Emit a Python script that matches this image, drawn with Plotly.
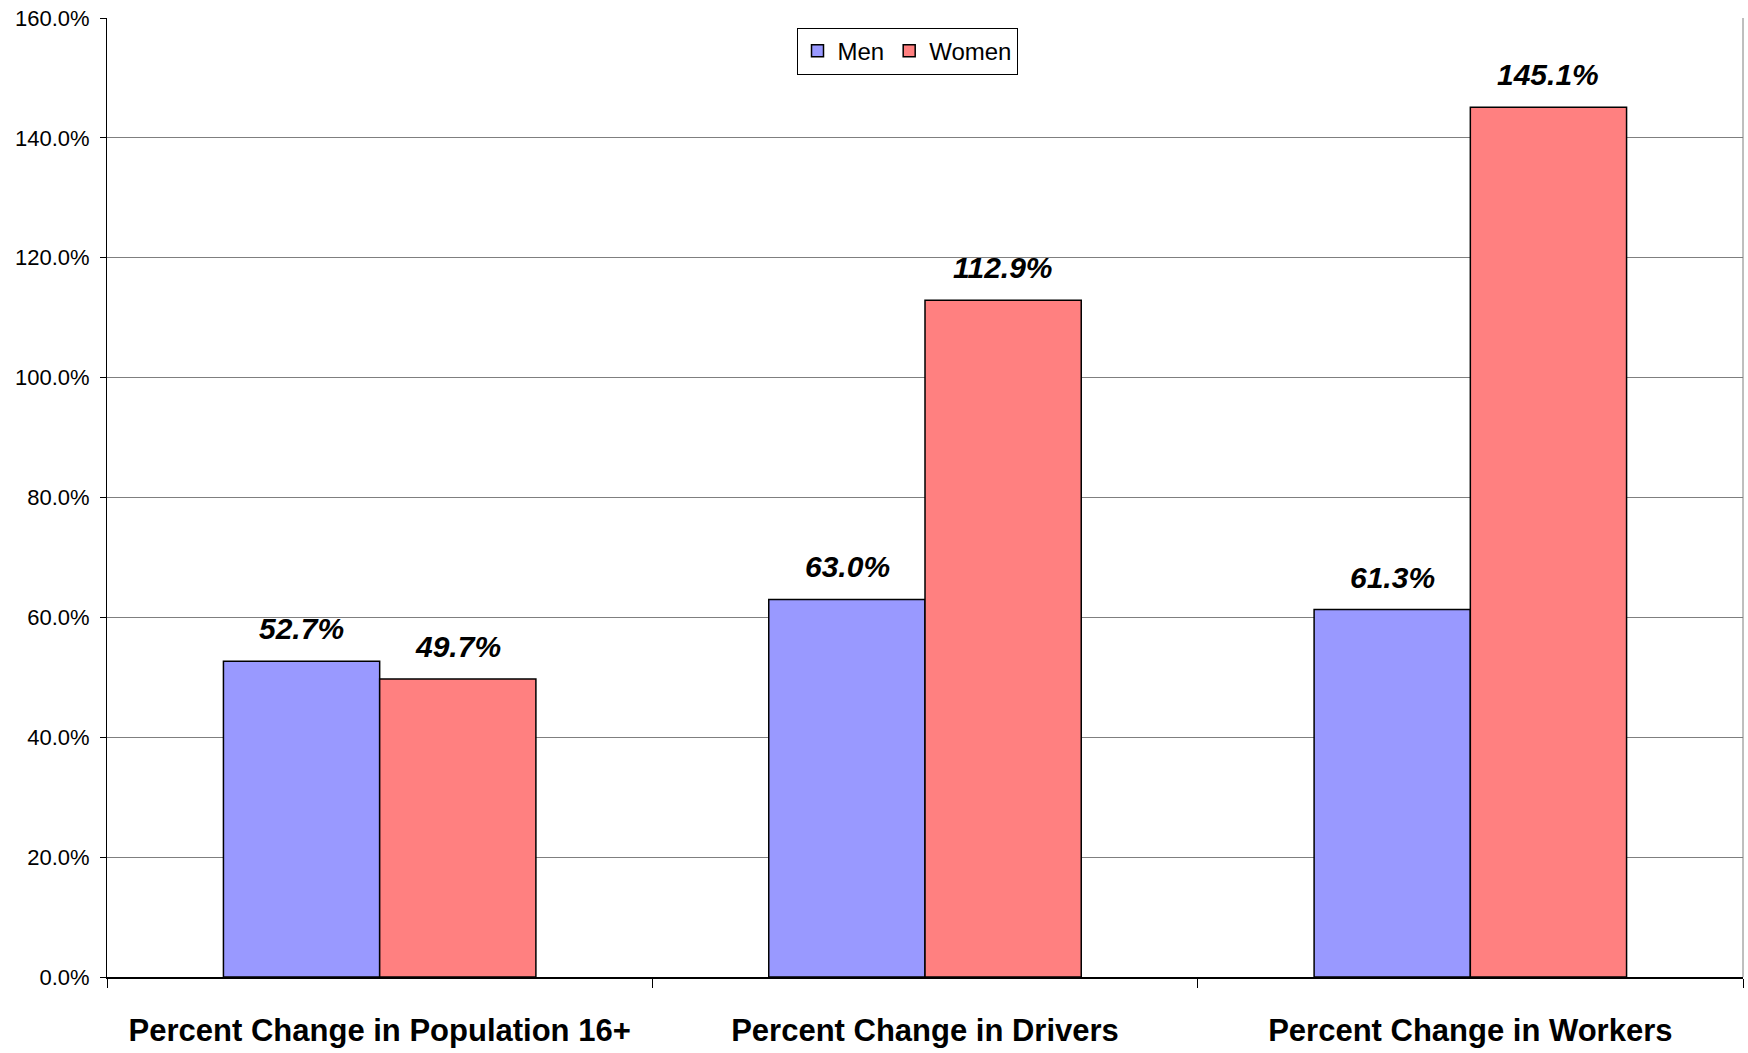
import plotly.graph_objects as go

categories = ["Percent Change in Population 16+", "Percent Change in Drivers", "Percent Change in Workers"]
men = [52.7, 63.0, 61.3]
women = [49.7, 112.9, 145.1]
series_names = ["Men", "Women"]
colors = ["#9999FF", "#FF8080"]

fig = go.Figure()
for name, vals, col in zip(series_names, [men, women], colors):
    fig.add_trace(go.Bar(
        name=name, x=categories, y=vals,
        marker=dict(color=col, line=dict(color="black", width=1.5)),
    ))

# data labels
for vals, shift in [(men, -78), (women, 78)]:
    for c, v in zip(categories, vals):
        fig.add_annotation(
            x=c, y=v, xref="x", yref="y", text=f"{v:.1f}%",
            showarrow=False, xshift=shift, yanchor="bottom", yshift=14,
            font=dict(family="Liberation Sans, Arial", size=30, color="black",
                      weight="bold", style="italic"),
        )

# right border
fig.add_shape(type="line", xref="paper", yref="paper", x0=1, x1=1, y0=0, y1=1,
              line=dict(color="#7f7f7f", width=1))

fig.update_layout(
    width=1748, height=1053,
    margin=dict(l=107, r=5, t=18, b=70),
    paper_bgcolor="white", plot_bgcolor="white",
    barmode="group", bargap=0.427, bargroupgap=0,
    font=dict(family="Liberation Sans, Arial", color="black"),
    legend=dict(orientation="h", x=0.489, xanchor="center", y=0.99, yanchor="top",
                bordercolor="black", borderwidth=1, bgcolor="white",
                font=dict(size=24), itemwidth=30, traceorder="normal"),
    showlegend=True,
)
fig.update_yaxes(
    range=[0, 160], dtick=20, tickformat=".1f", ticksuffix="%",
    showgrid=True, gridcolor="#7f7f7f", gridwidth=1,
    showline=True, linecolor="black", linewidth=1,
    ticks="outside", ticklen=6, tickcolor="black",
    tickfont=dict(size=22), zeroline=False, ticklabelstandoff=6,
)
fig.update_xaxes(
    showline=True, linecolor="black", linewidth=1.5,
    ticks="outside", tickson="boundaries", ticklen=9, tickcolor="black",
    tickfont=dict(size=31, weight="bold"), ticklabelstandoff=25,
)

fig.write_html("out.html")
